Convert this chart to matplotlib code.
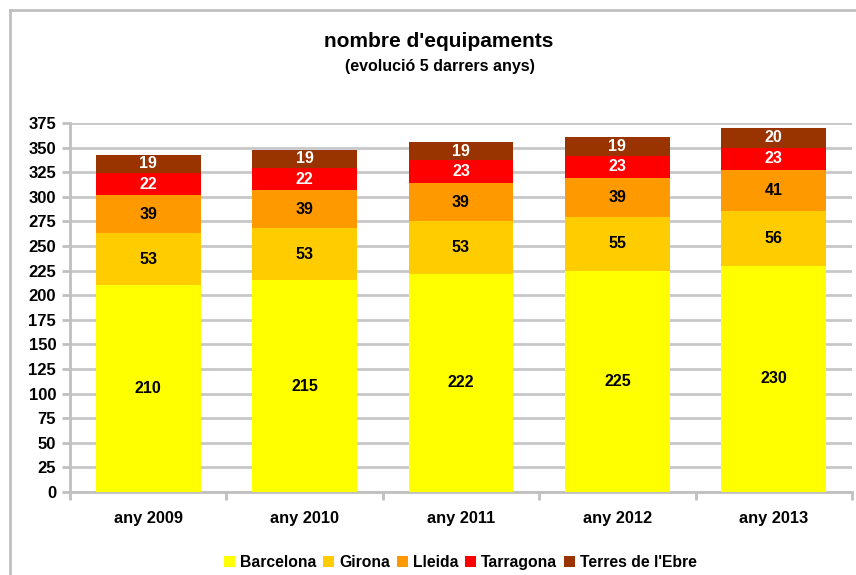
import matplotlib
matplotlib.use('Agg')
import matplotlib.pyplot as plt
from matplotlib.lines import Line2D
from matplotlib.patches import Patch

plt.rcParams['font.family'] = ['Liberation Sans', 'DejaVu Sans']
plt.rcParams['font.weight'] = 'bold'

# dades
anys = ['any 2009', 'any 2010', 'any 2011', 'any 2012', 'any 2013']
barcelona = [210, 215, 222, 225, 230]
girona = [53, 53, 53, 55, 56]
lleida = [39, 39, 39, 39, 41]
tarragona = [22, 22, 23, 23, 23]
terres_ebre = [19, 19, 19, 19, 20]

series = [('Barcelona', barcelona, '#FFFF00', 'black'),
          ('Girona', girona, '#FFCC00', 'black'),
          ('Lleida', lleida, '#FF9900', 'black'),
          ('Tarragona', tarragona, '#FF0000', 'white'),
          ("Terres de l'Ebre", terres_ebre, '#993300', 'white')]

fig = plt.figure(figsize=(8.56, 5.75), dpi=100)
ax = fig.add_axes([0.0818, 0.1443, 0.9135, 0.6417])

x = list(range(len(anys)))
base = [0] * len(anys)
for nom, vals, color, txtcol in series:
    bars = ax.bar(x, vals, bottom=base, width=0.67, color=color, label=nom, zorder=3)
    ax.bar_label(bars, labels=[str(v) for v in vals], label_type='center',
                 color=txtcol, fontsize=11.5, fontweight='bold')
    base = [b + v for b, v in zip(base, vals)]

ax.set_xlim(-0.5, len(anys) - 0.5)
ax.set_ylim(0, 375)
ax.set_yticks(range(0, 376, 25))
ax.set_xticks(x)
ax.set_xticklabels(anys, fontsize=11.8, fontweight='bold')
ax.set_xticks([i + 0.5 for i in range(-1, len(anys))], minor=True)
ax.tick_params(axis='x', which='major', length=0, pad=14)
ax.tick_params(axis='x', which='minor', length=6, color='#C0C0C0', width=2)
ax.tick_params(axis='y', length=6, color='#C0C0C0', width=2, labelsize=12, pad=4)
for lab in ax.get_yticklabels():
    lab.set_fontweight('bold')
ax.grid(axis='y', color='#C8C8C8', linewidth=2, zorder=0)
for s in ['top', 'right']:
    ax.spines[s].set_visible(False)
for s in ['left', 'bottom']:
    ax.spines[s].set_color('#C0C0C0')
    ax.spines[s].set_linewidth(2)

fig.text(0.513, 0.927, "nombre d'equipaments", ha='center', va='center',
         fontsize=15, fontweight='bold')
fig.text(0.514, 0.884, "(evolució 5 darrers anys)", ha='center', va='center',
         fontsize=11.5, fontweight='bold')

handles = [Patch(facecolor=c, edgecolor='none') for _, _, c, _ in series]
fig.legend(handles, [n for n, _, _, _ in series], loc='center',
           bbox_to_anchor=(0.538, 0.021), ncol=5, frameon=False,
           handlelength=0.7, handleheight=0.7, handletextpad=0.3,
           columnspacing=0.45, prop={'size': 11.3, 'weight': 'bold'})

# marc del gràfic
fig.add_artist(Line2D([0.0117, 0.0117], [0, 0.983], transform=fig.transFigure,
                      color='#C0C0C0', linewidth=2))
fig.add_artist(Line2D([0.0117, 1], [0.983, 0.983], transform=fig.transFigure,
                      color='#C0C0C0', linewidth=2))

fig.savefig('out.png', dpi=100)
